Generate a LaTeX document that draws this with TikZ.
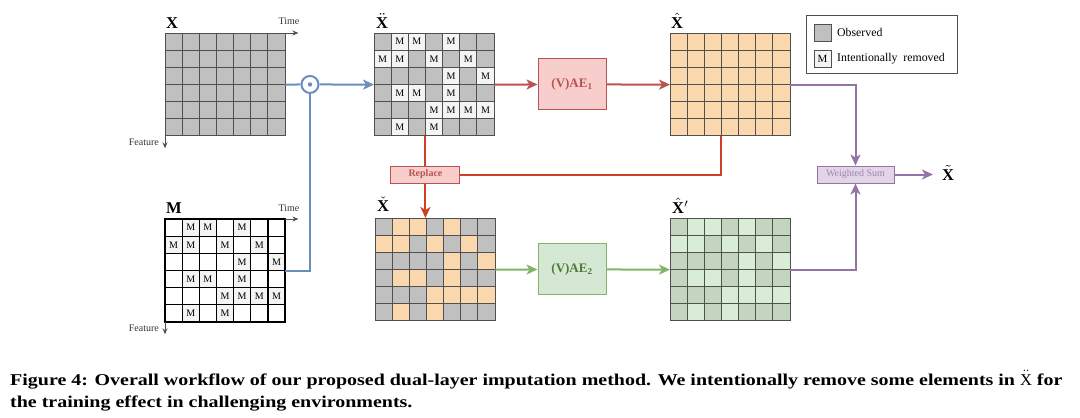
\documentclass[tikz,border=0pt]{standalone}
\usepackage{graphicx}
\usepackage{fontspec}
\setmainfont{Liberation Serif}
\newfontfamily\capfont[FakeStretch=1.21]{Liberation Serif}
\usetikzlibrary{arrows.meta,calc}
\definecolor{cellgray}{HTML}{C0C0C0}
\definecolor{celllight}{HTML}{F4F4F4}
\definecolor{cellorange}{HTML}{FAD7AC}
\definecolor{greendark}{HTML}{C3D5BE}
\definecolor{greenlight}{HTML}{D9EDD6}
\definecolor{gridline}{HTML}{505050}
\definecolor{bluec}{HTML}{6C8EBF}
\definecolor{redc}{HTML}{B85450}
\definecolor{redfill}{HTML}{F8CECC}
\definecolor{orc}{HTML}{CC4125}
\definecolor{greenc}{HTML}{82B366}
\definecolor{greenfill}{HTML}{D5E8D4}
\definecolor{greentext}{HTML}{4D7A3A}
\definecolor{purc}{HTML}{9673A6}
\definecolor{purfill}{HTML}{E1D5E7}
\definecolor{purtext}{HTML}{9F85B3}
\def\mpat{{0,1,1,0,1,0,0},{1,1,0,1,0,1,0},{0,0,0,0,1,0,1},{0,1,1,0,1,0,0},{0,0,0,1,1,1,1},{0,1,0,1,0,0,0}}
\newcommand\biglab[1]{\scalebox{1.65}{$#1$}}
% #1 name, #2 x0, #3 y0, #4 fill for 0, #5 fill for 1, #6 show M (1/0), #7 line style
\newcommand\mkgrid[7]{%
  \node[inner sep=0pt, minimum width=120.05pt, minimum height=102.9pt, anchor=north west] (#1) at (#2,#3) {};
  \foreach \rw [count=\r from 0] in \mpat {
    \foreach \v [count=\c from 0] in \rw {
      \ifnum\v=1 \def\fc{#5}\else\def\fc{#4}\fi
      \draw[#7, fill=\fc] (#2+\c*17.15, #3+\r*17.15) rectangle ++(17.15,17.15);
      \ifnum\numexpr#6*\v\relax=1
        \node[cellm] at (#2+\c*17.15+8.575, #3+\r*17.15+8.575) {M};
      \fi
    }
  }
}
\begin{document}
\begin{tikzpicture}[x=1pt,y=-1pt,
  cellm/.style={inner sep=0pt, font=\fontsize{10}{10}\selectfont},
  gridthin/.style={draw=gridline, line width=0.9pt},
  gridblack/.style={draw=black, line width=1.2pt},
  axis/.style={draw=gridline, line width=0.9pt, -{Stealth[length=6pt,width=5pt]}},
  axlabel/.style={inner sep=0pt, font=\fontsize{10}{10}\selectfont, text=black!80},
  glabel/.style={inner sep=0pt, anchor=base west, font=\fontsize{10}{10}\selectfont},
  conn/.style={line width=2pt},
  tip/.style={-{Stealth[length=11pt,width=10pt,inset=3pt]}},
  blueline/.style={conn, draw=bluec},
  redline/.style={conn, draw=redc},
  orline/.style={conn, draw=orc},
  greenline/.style={conn, draw=greenc},
  purline/.style={conn, draw=purc},
  aebox/.style={draw=#1, line width=1pt, minimum width=68pt, minimum height=51pt, inner sep=0pt, font=\bfseries\fontsize{13}{13}\selectfont},
  smallbox/.style={line width=1pt, inner sep=0pt, font=\fontsize{10}{10}\selectfont}
]
\useasboundingbox (0,0) rectangle (1080,418);

% grids
\mkgrid{X}{165}{33}{cellgray}{cellgray}{0}{gridthin}
\mkgrid{Xdd}{374}{33}{cellgray}{celllight}{1}{gridthin}
\mkgrid{Xh}{670}{33}{cellorange}{cellorange}{0}{gridthin}
\mkgrid{M}{165}{219}{white}{celllight}{1}{gridblack}
\mkgrid{Xc}{375}{218}{cellgray}{cellorange}{0}{gridthin}
\mkgrid{Xhp}{670}{218}{greendark}{greenlight}{0}{gridthin}

% grid labels
\node[glabel] (lX) at (166,28) {\biglab{\mathbf{X}}};
\node[glabel] (lXdd) at (376,28) {\biglab{\ddot{\mathbf{X}}}};
\node[glabel] (lXh) at (671,28) {\biglab{\hat{\mathbf{X}}}};
\node[glabel] (lM) at (166,213) {\biglab{\mathbf{M}}};
\node[glabel] (lXc) at (377,211) {\biglab{\check{\mathbf{X}}}};
\node[glabel] (lXhp) at (672,213) {\biglab{\hat{\mathbf{X}}'}};

% axes
\draw[axis] (X.north east) -- ++(13,0);
\draw[axis] (X.south west) -- ++(0,12);
\node[axlabel, anchor=base] (tX) at (289,24) {Time};
\node[axlabel, anchor=base east] (fX) at (159,145) {Feature};
\draw[axis] (M.north east) -- ++(13,0);
\draw[axis] (M.south west) -- ++(0,12);
\node[axlabel, anchor=base] (tM) at (289,211) {Time};
\node[axlabel, anchor=base east] (fM) at (159,331) {Feature};

% blue
\node[circle, draw=bluec, line width=2pt, fill=white, minimum size=17pt, inner sep=0pt] (odot) at (310,84.45) {};
\fill[bluec] (odot.center) circle (2.2pt);
\draw[blueline] (X.east) -- (odot.west);
\draw[blueline, tip] (odot.east) -- (Xdd.west);
\draw[blueline] (odot.south) |- (M.east);

% red top
\node[aebox=redc, fill=redfill, text=redc] (ae1) at (572,84.45) {(V)AE\textsubscript{1}};
\draw[redline, tip] (Xdd.east) -- (ae1.west);
\draw[redline, tip] (ae1.east) -- (Xh.west);

% replace
\node[smallbox, draw=redc, fill=redfill, text=redc, font=\bfseries\fontsize{10}{10}\selectfont, minimum width=69pt, minimum height=17pt] (rep) at (425.45,174.5) {Replace};
\draw[orline] (rep.north |- Xdd.south) -- (rep.north);
\draw[orline, tip] (rep.south) -- (rep.south |- Xc.north);
\draw[orline] ($(Xh.south west)+(51.45,0)$) |- (rep.east);

% green
\node[aebox=greenc, fill=greenfill, text=greentext] (ae2) at (572,269.45) {(V)AE\textsubscript{2}};
\draw[greenline, tip] (Xc.east) -- (ae2.west);
\draw[greenline, tip] (ae2.east) -- (Xhp.west);

% weighted sum
\node[smallbox, draw=purc, fill=purfill, text=purtext, minimum width=77pt, minimum height=17pt] (ws) at (855.5,174.5) {Weighted Sum};
\draw[purline, tip] (Xh.east) -| (ws.north);
\draw[purline, tip] (Xhp.east) -| (ws.south);
\node[inner sep=0pt, anchor=west, font=\fontsize{10}{10}\selectfont] (Xt) at (942,173) {\biglab{\tilde{\mathbf{X}}}};
\draw[purline, tip] (ws.east) -- ([xshift=-9pt]ws.east -| Xt.west);

% legend
\node[draw=gridline, line width=1pt, minimum width=151pt, minimum height=58pt, inner sep=0pt, anchor=north west] (leg) at (806,15) {};
\node[draw=gridline, line width=1pt, fill=cellgray, minimum size=17pt, inner sep=0pt] (lg1) at (822.5,33) {};
\node[anchor=west, inner sep=0pt, font=\fontsize{11.8}{12}\selectfont] (lt1) at (837,32) {Observed};
\node[draw=gridline, line width=1pt, fill=celllight, minimum size=17pt, inner sep=0pt, font=\fontsize{11}{11}\selectfont] (lg2) at (822.5,58.5) {M};
\node[anchor=west, inner sep=0pt, font=\fontsize{11.8}{12}\selectfont] (lt2) at (837,58.5) {Intentionally\ \ removed};

% caption
\node[anchor=base west, inner sep=0pt, font=\capfont\bfseries\fontsize{16.5}{22}\selectfont] (cap1) at (10,385) {Figure 4: Overall workflow of our proposed dual-layer imputation method. We intentionally remove some elements in $\ddot{\mathrm{X}}$ for};
\node[anchor=base west, inner sep=0pt, font=\capfont\bfseries\fontsize{16.5}{22}\selectfont] (cap2) at (10,407) {the training effect in challenging environments.};
\end{tikzpicture}
\end{document}
